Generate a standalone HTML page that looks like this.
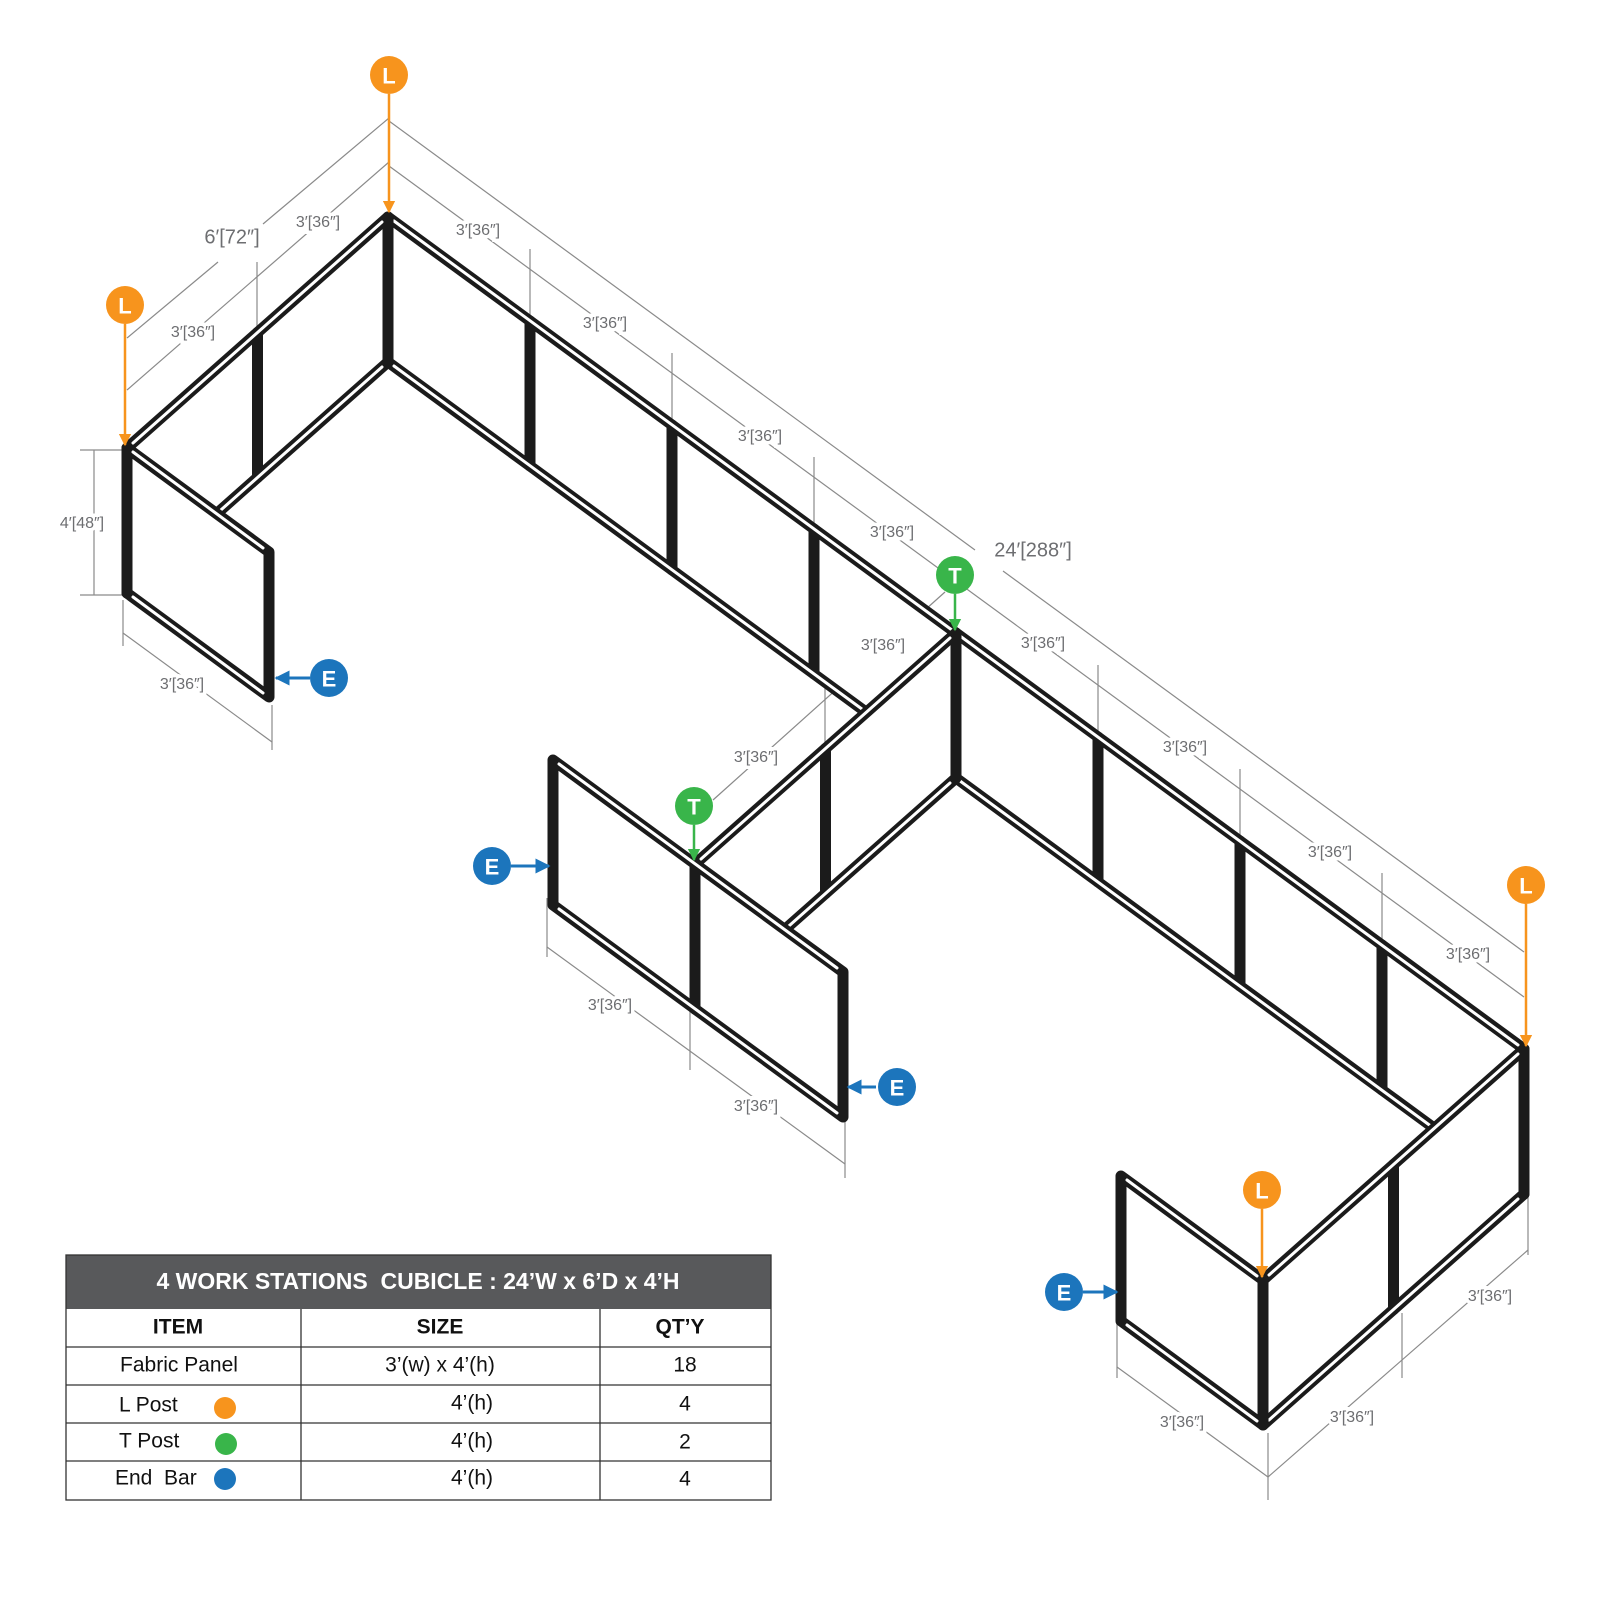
<!DOCTYPE html>
<html><head><meta charset="utf-8"><style>
html,body{margin:0;padding:0;background:#fff;}
svg{display:block;}
.p{fill:#fff;stroke:#1b1b1b;stroke-width:11;stroke-linejoin:round;}
.s{stroke:#fff;stroke-width:3;fill:none;stroke-linecap:round;}
.d{stroke:#8a8a8a;stroke-width:1.2;fill:none;}
.t{font-family:"Liberation Sans",sans-serif;font-size:16px;fill:#6d6e71;text-anchor:middle;dominant-baseline:middle;stroke:#fff;stroke-width:7;paint-order:stroke;}
.c{font-family:"Liberation Sans",sans-serif;font-weight:bold;font-size:22px;fill:#fff;text-anchor:middle;dominant-baseline:central;}
.tb{font-family:"Liberation Sans",sans-serif;font-size:21px;fill:#111;text-anchor:middle;dominant-baseline:middle;}
</style></head><body>
<svg width="1600" height="1600" viewBox="0 0 1600 1600" xmlns="http://www.w3.org/2000/svg">
<defs>
<marker id="ao" viewBox="0 0 10 10" refX="9" refY="5" markerWidth="5" markerHeight="5" orient="auto"><path d="M0,0L10,5L0,10z" fill="#F7941D"/></marker>
<marker id="ag" viewBox="0 0 10 10" refX="9" refY="5" markerWidth="5" markerHeight="5" orient="auto"><path d="M0,0L10,5L0,10z" fill="#39B54A"/></marker>
<marker id="ab" viewBox="0 0 10 10" refX="9" refY="5" markerWidth="5" markerHeight="5" orient="auto"><path d="M0,0L10,5L0,10z" fill="#1C75BC"/></marker>
</defs>

<g class="d">
<line x1="389" y1="121" x2="975" y2="550"/><line x1="1003" y1="571" x2="1524" y2="952"/>
<line x1="389" y1="166" x2="1524" y2="997"/>
<line x1="389" y1="118" x2="263" y2="224"/><line x1="218" y1="262" x2="127" y2="338"/>
<line x1="389" y1="162" x2="127" y2="390"/>
<line x1="530" y1="316" x2="530" y2="249"/><line x1="672" y1="420" x2="672" y2="353"/>
<line x1="814" y1="524" x2="814" y2="457"/><line x1="1098" y1="732" x2="1098" y2="665"/>
<line x1="1240" y1="836" x2="1240" y2="769"/><line x1="1382" y1="940" x2="1382" y2="873"/>
<line x1="257" y1="327" x2="257" y2="262"/>
<line x1="945" y1="592" x2="713" y2="800"/><line x1="825" y1="743" x2="825" y2="687"/>
<line x1="94" y1="450" x2="94" y2="595"/><line x1="80" y1="450" x2="122" y2="450"/><line x1="80" y1="595" x2="122" y2="595"/>
<line x1="123" y1="600" x2="123" y2="646"/><line x1="272" y1="705" x2="272" y2="750"/><line x1="123" y1="633" x2="272" y2="742"/>
<line x1="547" y1="898" x2="547" y2="957"/><line x1="690" y1="1003" x2="690" y2="1070"/><line x1="845" y1="1120" x2="845" y2="1178"/>
<line x1="547" y1="947" x2="845" y2="1164"/>
<line x1="1117" y1="1320" x2="1117" y2="1378"/><line x1="1268" y1="1433" x2="1268" y2="1500"/>
<line x1="1402" y1="1313" x2="1402" y2="1378"/><line x1="1528" y1="1190" x2="1528" y2="1255"/>
<line x1="1117" y1="1367" x2="1268" y2="1477"/><line x1="1268" y1="1477" x2="1528" y2="1250"/>
</g>

<g>
<polygon class="p" points="388,217 530,321 530,466 388,362"/>
<polygon class="p" points="530,321 672,425 672,570 530,466"/>
<polygon class="p" points="672,425 814,529 814,674 672,570"/>
<polygon class="p" points="814,529 956,633 956,778 814,674"/>
<polygon class="p" points="956,633 1098,737 1098,882 956,778"/>
<polygon class="p" points="1098,737 1240,841 1240,986 1098,882"/>
<polygon class="p" points="1240,841 1382,945 1382,1090 1240,986"/>
<polygon class="p" points="1382,945 1524,1049 1524,1194 1382,1090"/>
<path class="s" d="M394,221L1518,1045M394,366L1518,1190"/>
</g>
<g>
<polygon class="p" points="388,217 257.5,332.5 257.5,477.5 388,362"/>
<polygon class="p" points="257.5,332.5 127,448 127,593 257.5,477.5"/>
<path class="s" d="M382,222L133,443M382,367L133,588"/>
<polygon class="p" points="956,633 825.5,748.5 825.5,893.5 956,778"/>
<polygon class="p" points="825.5,748.5 695,864 695,1009 825.5,893.5"/>
<path class="s" d="M950,638L701,859M950,783L701,1004"/>
<polygon class="p" points="1524,1049 1393.5,1164.5 1393.5,1309.5 1524,1194"/>
<polygon class="p" points="1393.5,1164.5 1263,1280 1263,1425 1393.5,1309.5"/>
<path class="s" d="M1518,1054L1269,1275M1518,1199L1269,1420"/>
</g>
<g>
<polygon class="p" points="127,448 269,552 269,697 127,593"/>
<path class="s" d="M133,452L263,548M133,597L263,693"/>
<polygon class="p" points="553,760 695,864 695,1009 553,905"/>
<polygon class="p" points="695,864 843,972 843,1117 695,1009"/>
<path class="s" d="M559,764L837,968M559,909L837,1113"/>
<polygon class="p" points="1121,1176 1263,1280 1263,1425 1121,1321"/>
<path class="s" d="M1127,1180L1257,1276M1127,1325L1257,1421"/>
</g>

<text class="t" x="478" y="231">3′[36″]</text>
<text class="t" x="605" y="324">3′[36″]</text>
<text class="t" x="760" y="437">3′[36″]</text>
<text class="t" x="892" y="533">3′[36″]</text>
<text class="t" x="1043" y="644">3′[36″]</text>
<text class="t" x="1185" y="748">3′[36″]</text>
<text class="t" x="1330" y="853">3′[36″]</text>
<text class="t" x="1468" y="955">3′[36″]</text>
<text class="t" x="1033" y="551" style="font-size:20px">24′[288″]</text>
<text class="t" x="232" y="238" style="font-size:20px">6′[72″]</text>
<text class="t" x="318" y="223">3′[36″]</text>
<text class="t" x="193" y="333">3′[36″]</text>
<text class="t" x="883" y="646">3′[36″]</text>
<text class="t" x="756" y="758">3′[36″]</text>
<text class="t" x="82" y="524">4′[48″]</text>
<text class="t" x="182" y="685">3′[36″]</text>
<text class="t" x="610" y="1006">3′[36″]</text>
<text class="t" x="756" y="1107">3′[36″]</text>
<text class="t" x="1182" y="1423">3′[36″]</text>
<text class="t" x="1352" y="1418">3′[36″]</text>
<text class="t" x="1490" y="1297">3′[36″]</text>

<g stroke-width="2.5">
<line x1="389" y1="94" x2="389" y2="212" stroke="#F7941D" marker-end="url(#ao)"/>
<line x1="125" y1="324" x2="125" y2="445" stroke="#F7941D" marker-end="url(#ao)"/>
<line x1="1526" y1="904" x2="1526" y2="1046" stroke="#F7941D" marker-end="url(#ao)"/>
<line x1="1262" y1="1209" x2="1262" y2="1277" stroke="#F7941D" marker-end="url(#ao)"/>
<line x1="955" y1="594" x2="955" y2="630" stroke="#39B54A" marker-end="url(#ag)"/>
<line x1="694" y1="825" x2="694" y2="860" stroke="#39B54A" marker-end="url(#ag)"/>
<line x1="310" y1="678" x2="276" y2="678" stroke="#1C75BC" stroke-width="3" marker-end="url(#ab)"/>
<line x1="511" y1="866" x2="549" y2="866" stroke="#1C75BC" stroke-width="3" marker-end="url(#ab)"/>
<line x1="876" y1="1087" x2="848" y2="1087" stroke="#1C75BC" stroke-width="3" marker-end="url(#ab)"/>
<line x1="1083" y1="1292" x2="1117" y2="1292" stroke="#1C75BC" stroke-width="3" marker-end="url(#ab)"/>
</g>
<g>
<circle cx="389" cy="75" r="19" fill="#F7941D"/><text class="c" x="389" y="76">L</text>
<circle cx="125" cy="305" r="19" fill="#F7941D"/><text class="c" x="125" y="306">L</text>
<circle cx="1526" cy="885" r="19" fill="#F7941D"/><text class="c" x="1526" y="886">L</text>
<circle cx="1262" cy="1190" r="19" fill="#F7941D"/><text class="c" x="1262" y="1191">L</text>
<circle cx="955" cy="575" r="19" fill="#39B54A"/><text class="c" x="955" y="576">T</text>
<circle cx="694" cy="806" r="19" fill="#39B54A"/><text class="c" x="694" y="807">T</text>
<circle cx="329" cy="678" r="19" fill="#1C75BC"/><text class="c" x="329" y="679">E</text>
<circle cx="492" cy="866" r="19" fill="#1C75BC"/><text class="c" x="492" y="867">E</text>
<circle cx="897" cy="1087" r="19" fill="#1C75BC"/><text class="c" x="897" y="1088">E</text>
<circle cx="1064" cy="1292" r="19" fill="#1C75BC"/><text class="c" x="1064" y="1293">E</text>
</g>

<rect x="66" y="1255" width="705" height="54" fill="#58595B"/>
<text x="418" y="1283" style="font-family:'Liberation Sans',sans-serif;font-weight:bold;font-size:23px;fill:#fff;text-anchor:middle;dominant-baseline:middle" xml:space="preserve">4 WORK STATIONS  CUBICLE : 24’W x 6’D x 4’H</text>
<g stroke="#333" stroke-width="1.3" fill="none">
<rect x="66" y="1255" width="705" height="245"/>
<line x1="66" y1="1347" x2="771" y2="1347"/><line x1="66" y1="1385" x2="771" y2="1385"/>
<line x1="66" y1="1423" x2="771" y2="1423"/><line x1="66" y1="1461" x2="771" y2="1461"/>
<line x1="301" y1="1309" x2="301" y2="1500"/><line x1="600" y1="1309" x2="600" y2="1500"/>
</g>
<text class="tb" x="178" y="1328" font-weight="bold">ITEM</text>
<text class="tb" x="440" y="1328" font-weight="bold">SIZE</text>
<text class="tb" x="680" y="1328" font-weight="bold">QT’Y</text>
<text class="tb" x="179" y="1366">Fabric Panel</text>
<text class="tb" x="440" y="1366">3’(w) x 4’(h)</text>
<text class="tb" x="685" y="1366">18</text>
<text class="tb" x="119" y="1406" style="text-anchor:start">L Post</text>
<text class="tb" x="472" y="1404">4’(h)</text>
<text class="tb" x="685" y="1405">4</text>
<text class="tb" x="119" y="1442" style="text-anchor:start">T Post</text>
<text class="tb" x="472" y="1442">4’(h)</text>
<text class="tb" x="685" y="1443">2</text>
<text class="tb" x="115" y="1479" style="text-anchor:start" xml:space="preserve">End  Bar</text>
<text class="tb" x="472" y="1479">4’(h)</text>
<text class="tb" x="685" y="1480">4</text>
<circle cx="225" cy="1408" r="11" fill="#F7941D"/>
<circle cx="226" cy="1444" r="11" fill="#39B54A"/>
<circle cx="225" cy="1479" r="11" fill="#1C75BC"/>
</svg>
</body></html>
